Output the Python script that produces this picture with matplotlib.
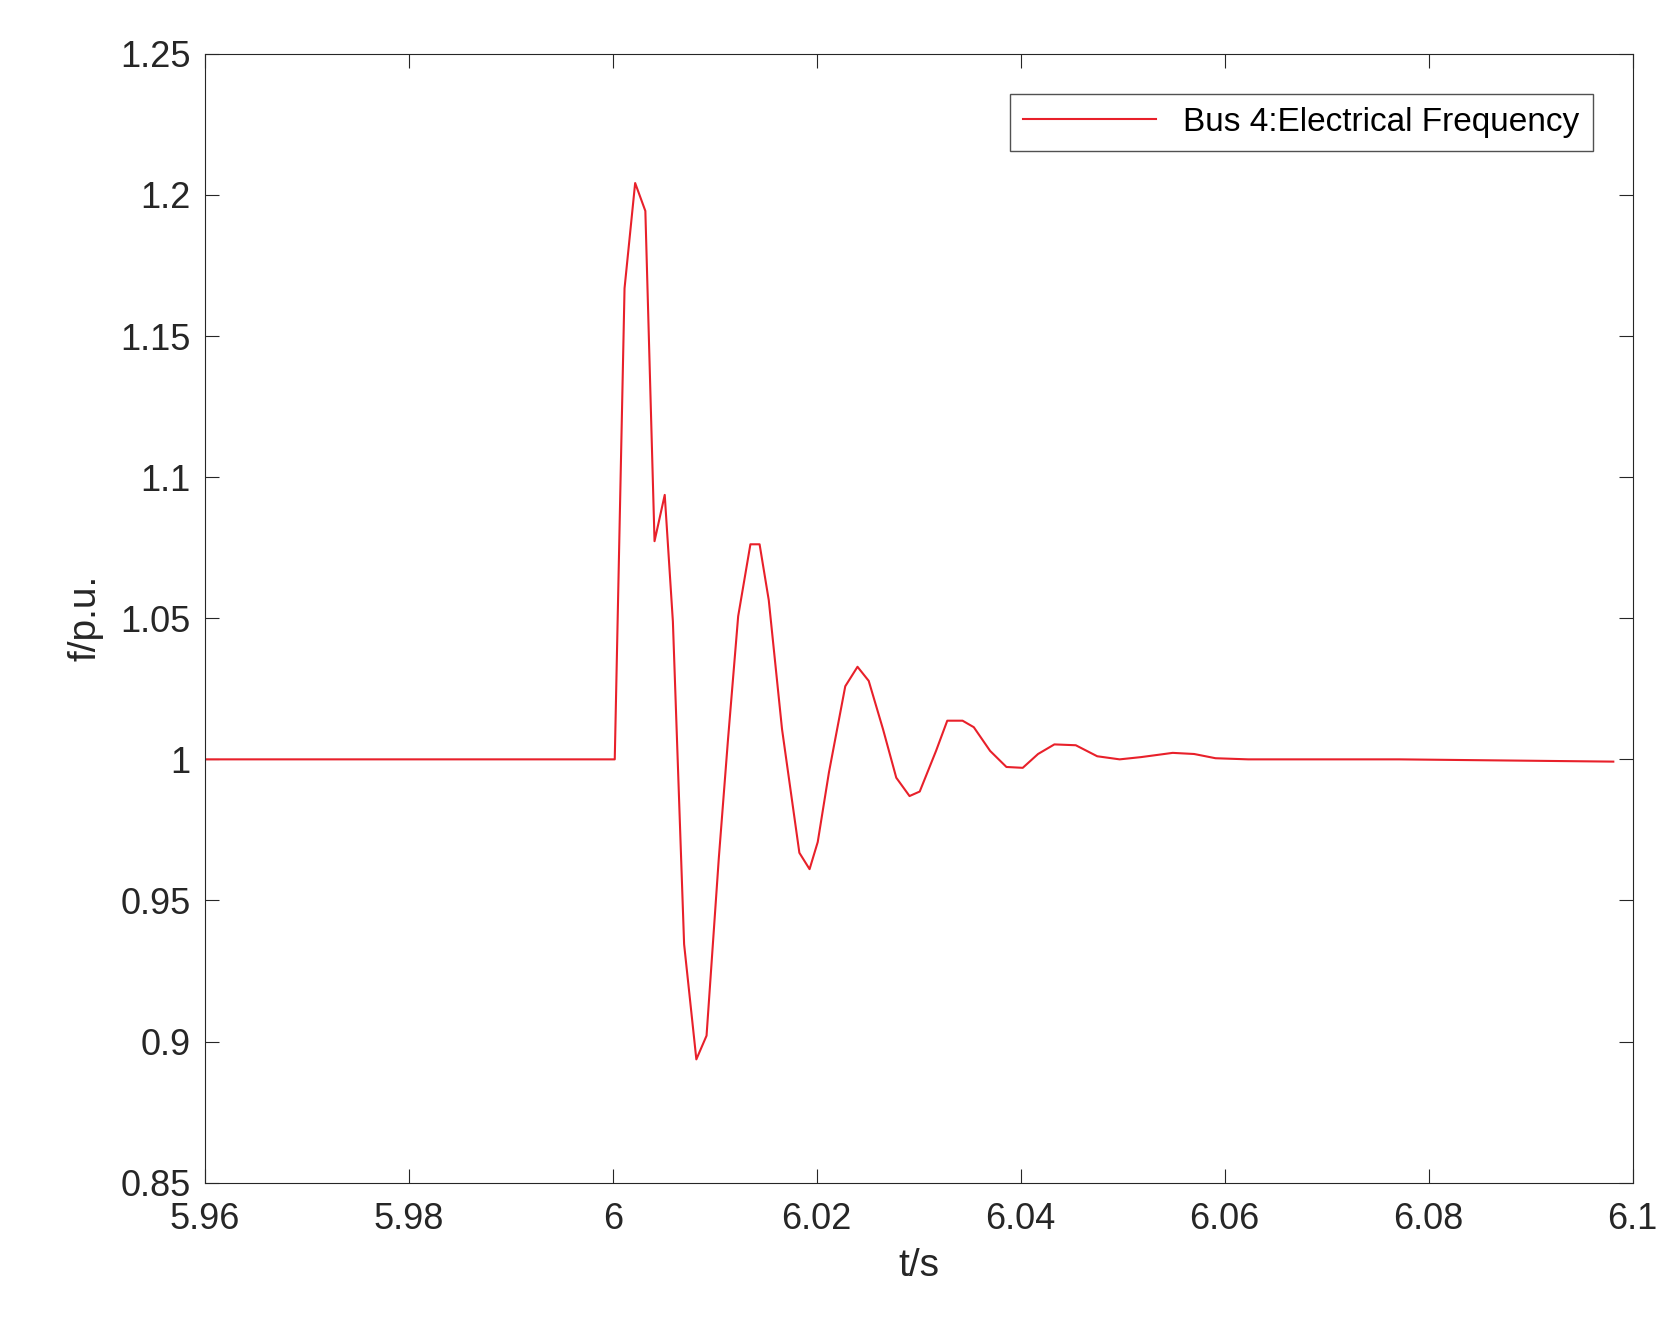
import matplotlib
matplotlib.use("Agg")
import matplotlib.pyplot as plt
plt.rcParams['font.family'] = ['Liberation Sans', 'DejaVu Sans']

t = [5.96, 6.0, 6.0002, 6.00116, 6.0022, 6.0032, 6.0041, 6.0051, 6.0059, 6.0070, 6.0082, 6.0092,
     6.0104, 6.0113, 6.0123, 6.0135, 6.0144, 6.0153, 6.0166, 6.0183, 6.0193, 6.0201, 6.0212,
     6.0228, 6.0240, 6.0251, 6.0265, 6.0278, 6.0291, 6.0301, 6.0317, 6.0328, 6.0343, 6.0354,
     6.0370, 6.0386, 6.0402, 6.0417, 6.0433, 6.0454, 6.0475, 6.0497, 6.0518, 6.0549, 6.0570,
     6.0591, 6.0623, 6.0771, 6.0981]
f = [1.0, 1.0, 1.0, 1.1669, 1.2042, 1.1943, 1.0773, 1.0937, 1.0488, 0.9345, 0.8937, 0.9021,
     0.9649, 1.0069, 1.0507, 1.0762, 1.0762, 1.0564, 1.0107, 0.9669, 0.9611, 0.9707, 0.9954,
     1.0259, 1.0328, 1.0278, 1.0107, 0.9935, 0.9870, 0.9886, 1.0030, 1.0137, 1.0137, 1.0114,
     1.0030, 0.9973, 0.9970, 1.0019, 1.0053, 1.0050, 1.0011, 1.0000, 1.0008, 1.0023, 1.0019,
     1.0004, 1.0, 1.0, 0.9992]

fig = plt.figure(figsize=(16.78, 13.44), dpi=100)
ax = fig.add_axes([0.122, 0.12, 0.851, 0.84])
ax.plot(t, f, color='#e8202a', lw=1.5, label='Bus 4:Electrical Frequency')
ax.set_xlim(5.96, 6.1)
ax.set_ylim(0.85, 1.25)
ax.set_xticks([5.96, 5.98, 6.0, 6.02, 6.04, 6.06, 6.08, 6.1])
ax.set_xticklabels(['5.96', '5.98', '6', '6.02', '6.04', '6.06', '6.08', '6.1'])
ax.set_yticks([0.85, 0.9, 0.95, 1.0, 1.05, 1.1, 1.15, 1.2, 1.25])
ax.set_yticklabels(['0.85', '0.9', '0.95', '1', '1.05', '1.1', '1.15', '1.2', '1.25'])
ax.tick_params(labelsize=26, direction='in', length=10, top=True, right=True, colors='#262626')
ax.tick_params(axis='x', pad=14)
ax.tick_params(axis='y', pad=10)
ax.set_xlabel('t/s', fontsize=28, color='#262626', labelpad=8)
ax.set_ylabel('f/p.u.', fontsize=28, color='#262626', labelpad=12)
for s in ax.spines.values():
    s.set_color('#262626')
ax.legend(loc='upper right', fontsize=24, fancybox=False, edgecolor='#262626',
          handlelength=4, borderaxespad=1.2)
fig.savefig('out.png')
